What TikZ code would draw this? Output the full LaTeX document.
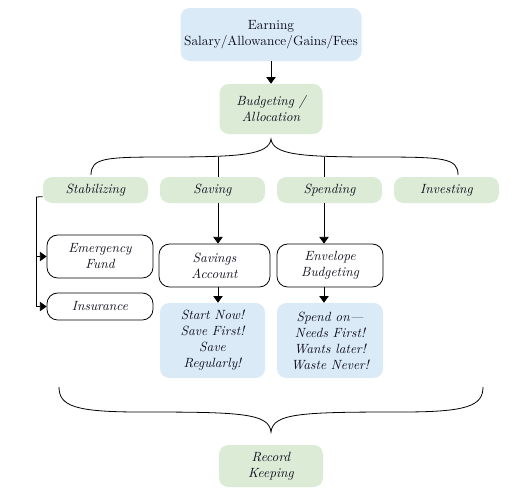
\documentclass[tikz,border=0pt]{standalone}
\usepackage{xcolor}
\usepackage{tikz}
\usetikzlibrary{arrows.meta,positioning,calc}
\definecolor{earnblue} {RGB}{218,234,247}
\definecolor{plangreen}{RGB}{219,235,214}
\definecolor{inkdark}  {RGB}{15,15,30}

\begin{document}
\begin{tikzpicture}[x=0.75pt, y=-0.75pt,
  gbox/.style={fill=plangreen, rounded corners=7pt, align=center,
               text=inkdark, font=\itshape, inner sep=2pt,
               minimum width=78.75pt, minimum height=19.5pt},
  bbox/.style={fill=earnblue, rounded corners=7pt, align=center,
               text=inkdark, inner sep=2pt,
               minimum width=78.75pt, minimum height=56.25pt},
  wbox/.style={draw, rounded corners=8pt, align=center, semithick,
               text=inkdark, font=\itshape, inner sep=2pt,
               minimum width=79.5pt, minimum height=32.25pt},
  arr/.style={-{Triangle[length=5pt, width=7pt]}, semithick},
  ln/.style={semithick},
]
\useasboundingbox (0,0) rectangle (526,501);

% top of the chart
\node[bbox, minimum width=135.75pt, minimum height=39.75pt] (earn) at (271,34.5)
  {Earning\\Salary/Allowance/Gains/Fees};
\node[gbox, minimum width=77.25pt, minimum height=37.5pt] (budget) at (271,109)
  {Budgeting /\\Allocation};
\draw[arr] (earn) -- (budget);

% the four uses
\node[gbox] (stab)   at (95.5,190)  {Stabilizing};
\node[gbox] (save)   at (212.5,190) {Saving};
\node[gbox] (spend)  at (329.5,190) {Spending};
\node[gbox] (invest) at (446.5,190) {Investing};

\draw[ln] (91,175) .. controls (91,158) and (105,157) .. (165,157)
  .. controls (240,157) and (269,155) .. (271,139)
  .. controls (273,155) and (302,157) .. (377,157)
  .. controls (444,157) and (458,158) .. (458,175);

\coordinate (svtop) at (218,157);
\coordinate (sptop) at (324,157);
\draw[ln] (svtop) -- (svtop |- save.north);
\draw[ln] (sptop) -- (sptop |- spend.north);

% stabilizing branch
\node[wbox] (emerg) at (100,256.5) {Emergency\\Fund};
\node[wbox, minimum height=20.25pt] (insur) at (100,306.5) {Insurance};
\coordinate (rail) at (36,197);
\draw[ln] ([yshift=-5pt]stab.west) -- (rail);
\draw[arr] (rail) |- (insur.west);
\draw[arr] (rail |- emerg.west) -- (emerg.west);

% saving branch
\node[wbox, minimum width=83.25pt] (acct) at (214.5,265.5) {Savings\\Account};
\node[bbox, font=\itshape] (savetip) at (212.5,340.5)
  {Start Now!\\Save First!\\Save\\Regularly!};
\draw[arr] (svtop |- save.south) -- (svtop |- acct.north);
\draw[arr] (svtop |- acct.south) -- (svtop |- savetip.north);

% spending branch
\node[wbox] (envel) at (330,265.5) {Envelope\\Budgeting};
\node[bbox, minimum width=79.5pt, font=\itshape] (spendtip) at (330,340.5)
  {Spend on---\\Needs First!\\Wants later!\\Waste Never!};
\draw[arr] (sptop |- spend.south) -- (sptop |- envel.north);
\draw[arr] (sptop |- envel.south) -- (sptop |- spendtip.north);

% bottom
\draw[ln] (59,387) .. controls (59,406) and (75,412) .. (140,412)
  .. controls (240,412) and (269,413) .. (271,432)
  .. controls (273,413) and (302,412) .. (402,412)
  .. controls (467,412) and (483,406) .. (483,387);
\node[gbox, minimum width=78pt, minimum height=31.5pt] (record) at (271,466)
  {Record\\Keeping};

\end{tikzpicture}
\end{document}
